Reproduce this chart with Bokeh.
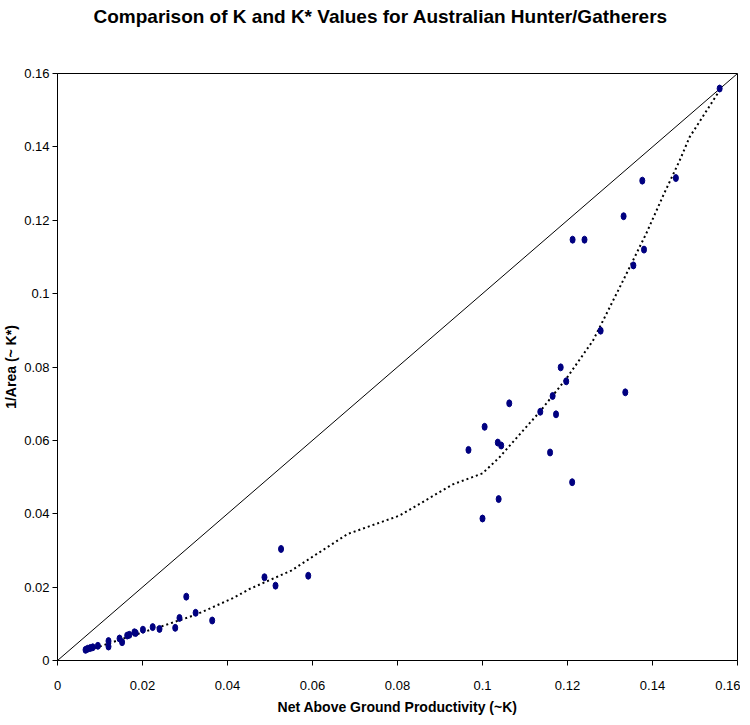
from bokeh.plotting import figure
from bokeh.models import FixedTicker, Range1d, Title
from bokeh.embed import file_html
from bokeh.resources import INLINE

# Observed data: Net Above Ground Productivity (~K) vs 1/Area (~K*)
ngp_k = [0.0066, 0.0071, 0.0077, 0.0083, 0.0095, 0.0120, 0.0120, 0.0146, 0.0152, 0.0164,
         0.0169, 0.0181, 0.0184, 0.0201, 0.0224, 0.0240, 0.0277, 0.0287, 0.0303, 0.0325,
         0.0364, 0.0487, 0.0513, 0.0526, 0.0590, 0.0967, 0.1005, 0.1036, 0.1044, 0.1038,
         0.1063, 0.1136, 0.1159, 0.1165, 0.1173, 0.1184, 0.1197, 0.1211, 0.1336, 0.1000,
         0.1278, 0.1376, 0.1455, 0.1332, 0.1240, 0.1212, 0.1380, 0.1355, 0.1558]
inv_area = [0.0029, 0.0032, 0.0034, 0.0036, 0.0040, 0.0053, 0.0038, 0.0060, 0.0050, 0.0068,
            0.0070, 0.0077, 0.0075, 0.0084, 0.0091, 0.0086, 0.0089, 0.0116, 0.0174, 0.0130,
            0.0109, 0.0227, 0.0204, 0.0304, 0.0231, 0.0574, 0.0637, 0.0594, 0.0586, 0.0440,
            0.0701, 0.0678, 0.0567, 0.0721, 0.0671, 0.0799, 0.0761, 0.0486, 0.0731, 0.0387,
            0.0899, 0.1308, 0.1315, 0.1211, 0.1147, 0.1147, 0.1120, 0.1077, 0.1559]

# Trend line
trend_x = [0.0066, 0.015, 0.025, 0.0326, 0.0413, 0.0452, 0.055, 0.0683, 0.0805, 0.093,
           0.1, 0.104, 0.1134, 0.1197, 0.126, 0.1322, 0.1385, 0.1427, 0.1464, 0.1487, 0.1558]
trend_y = [0.0025, 0.0058, 0.0095, 0.0125, 0.0170, 0.0195, 0.0245, 0.0345, 0.0395, 0.0480,
           0.051, 0.0554, 0.0677, 0.0768, 0.0872, 0.1015, 0.1163, 0.1272, 0.1363, 0.1426, 0.1554]

# 1:1 reference line
diag_x = [0.0, 0.16]
diag_y = [0.0, 0.16]

tick_vals = [0, 0.02, 0.04, 0.06, 0.08, 0.1, 0.12, 0.14, 0.16]
tick_labels = ["0", "0.02", "0.04", "0.06", "0.08", "0.1", "0.12", "0.14", "0.16"]

FONT = "Liberation Sans"

p = figure(width=740, height=718, output_backend="svg", toolbar_location=None,
           x_range=Range1d(0, 0.16), y_range=Range1d(0, 0.16),
           min_border_left=50, min_border_right=3, min_border_top=73, min_border_bottom=58,
           title="Comparison of K and K* Values for Australian Hunter/Gatherers")

p.title.align = "left"
p.title.offset = 36
p.title.standoff = 0
p.title.text_font = FONT
p.title.text_font_size = "19px"
p.title.text_font_style = "bold"
p.title.text_color = "black"

# empty spacer between the title and the plot frame
spacer = Title(text=" ", text_font_size="1px", standoff=44)
p.add_layout(spacer, "above")

p.outline_line_color = "black"
p.outline_line_width = 1
p.xgrid.visible = False
p.ygrid.visible = False
p.background_fill_color = "white"
p.border_fill_color = "white"

labels = dict(zip(tick_vals, tick_labels))
for ax in (p.xaxis[0], p.yaxis[0]):
    ax.ticker = FixedTicker(ticks=tick_vals)
    ax.major_label_overrides = labels
    ax.minor_tick_line_color = None
    ax.major_tick_in = 0
    ax.major_tick_out = 5
    ax.axis_line_color = "black"
    ax.major_tick_line_color = "black"
    ax.major_label_text_font = FONT
    ax.major_label_text_font_size = "13px"
    ax.major_label_text_color = "black"
    ax.axis_label_text_font = FONT
    ax.axis_label_text_font_size = "14px"
    ax.axis_label_text_font_style = "bold"
    ax.axis_label_text_color = "black"

p.xaxis.axis_label = "Net Above Ground Productivity (~K)"
p.yaxis.axis_label = "1/Area (~ K*)"
p.xaxis.major_label_standoff = 15
p.yaxis.major_label_standoff = 3
p.xaxis.axis_label_standoff = 6
p.yaxis.axis_label_standoff = 2

p.line(diag_x, diag_y, line_color="black", line_width=1)
p.line(trend_x, trend_y, line_color="black", line_width=2, line_dash="2 3")
p.ellipse(ngp_k, inv_area, width=5, height=7, width_units="screen", height_units="screen",
          fill_color="#000080", line_color="#000080")

open("out.html", "w").write(file_html(p, INLINE))
